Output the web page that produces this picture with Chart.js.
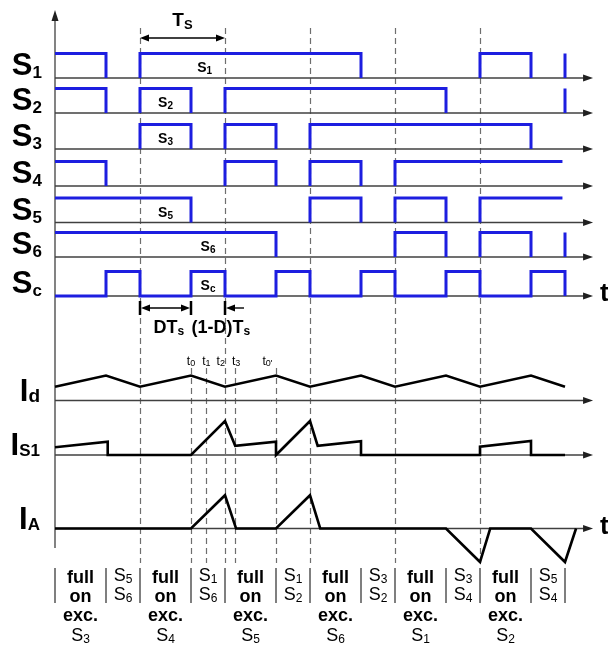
<!DOCTYPE html>
<html>
<head>
<meta charset="utf-8">
<script src="https://cdn.jsdelivr.net/npm/chart.js@4.4.1/dist/chart.umd.min.js"></script>
<style>
  body { margin: 0; background: #fff; }
  canvas { display: block; }
</style>
</head>
<body>
<canvas id="timing" width="608" height="651"></canvas>
<script>
// time is in units of Ts, switches are 0/1, currents in arbitrary units
var sw1Pulses = [[0, 0.6], [1, 3.6], [5, 5.6], [6, 6]];
var sw2Pulses = [[0, 0.6], [1, 1.6], [2, 4.6], [6, 6]];
var sw3Pulses = [[1, 1.6], [2, 2.6], [3, 5.6]];
var sw4Pulses = [[0, 0.6], [2, 2.6], [3, 3.6], [4, null]]; // null = still on at the end
var sw5Pulses = [[0, 1.6], [3, 3.6], [4, 4.6], [5, null]];
var sw6Pulses = [[0, 2.6], [4, 4.6], [5, 5.6], [6, 6]];
var scPulses = [[0.6, 1], [1.6, 2], [2.6, 3], [3.6, 4], [4.6, 5], [5.6, 6]];
var openEnd = 5.97;

var idWave = [[0, 0.55], [0.6, 1], [1, 0.55], [1.6, 1], [2, 0.55], [2.6, 1], [3, 0.55],
  [3.6, 1], [4, 0.55], [4.6, 1], [5, 0.55], [5.6, 1], [6, 0.55]];
var is1Wave = [[0, 0.31], [0.62, 0.53], [0.62, 0], [1.6, 0], [2, 1.36], [2.12, 0.37],
  [2.6, 0.53], [2.6, 0], [3, 1.36], [3.09, 0.37], [3.6, 0.55], [3.6, 0], [5, 0],
  [5, 0.33], [5.6, 0.56], [5.6, 0], [6, 0]];
var iaWave = [[0, 0], [1.6, 0], [2, 1.33], [2.13, 0], [2.6, 0], [3, 1.33], [3.12, 0],
  [4.6, 0], [5, -1.34], [5.12, 0], [5.6, 0], [6, -1.34], [6.13, 0]];

var switchNames = ['1', '2', '3', '4', '5', '6', 'c'];
var currentNames = ['d', 'S1', 'A'];

var periodMarks = [1, 2, 3, 4, 5];
var instantMarks = [1.6, 1.78, 2.12, 2.6];
var instantNames = [['0', 1.6], ['1', 1.78], ['2', 1.95], ['3', 2.13], ["0'", 2.5]];

var phaseBounds = [0, 0.6, 1, 1.6, 2, 2.6, 3, 3.6, 4, 4.6, 5, 5.6, 6];
var phaseLabels = [
  ['full', 'on', 'exc.', '3'], ['5', '6'],
  ['full', 'on', 'exc.', '4'], ['1', '6'],
  ['full', 'on', 'exc.', '5'], ['1', '2'],
  ['full', 'on', 'exc.', '6'], ['3', '2'],
  ['full', 'on', 'exc.', '1'], ['3', '4'],
  ['full', 'on', 'exc.', '2'], ['5', '4']
];

// layout
var xOriginPx = 55;
var pxPerTs = 85;
var rowBase = [78, 113, 149, 186, 222.5, 257, 296];
var pulseHeight = 24.5;
var analogBase = [400.5, 455, 528.5];
var analogUnit = 25;
var axisEnd = 6.33;
var blue = '#1d1ee0';
var FONT = '"Liberation Sans", Arial, sans-serif';

function pulsePoints(pulses, base) {
  var pts = [];
  for (var i = 0; i < pulses.length; i++) {
    var start = pulses[i][0];
    var end = pulses[i][1] === null ? openEnd : pulses[i][1];
    if (start > 0) pts.push({x: start, y: base});
    pts.push({x: start, y: base - pulseHeight});
    pts.push({x: end, y: base - pulseHeight});
    if (pulses[i][1] !== null) pts.push({x: end, y: base});
    pts.push({x: end, y: null});
  }
  return pts;
}

function clockPoints(pulses, base) {
  var pts = [{x: 0, y: base}];
  for (var i = 0; i < pulses.length; i++) {
    pts.push({x: pulses[i][0], y: base});
    pts.push({x: pulses[i][0], y: base - pulseHeight});
    pts.push({x: pulses[i][1], y: base - pulseHeight});
    pts.push({x: pulses[i][1], y: base});
  }
  return pts;
}

function wavePoints(wave, base) {
  return wave.map(function(p) { return {x: p[0], y: base - p[1] * analogUnit}; });
}

var allPulses = [sw1Pulses, sw2Pulses, sw3Pulses, sw4Pulses, sw5Pulses, sw6Pulses];
var datasets = [];
for (var i = 0; i < allPulses.length; i++) {
  datasets.push({data: pulsePoints(allPulses[i], rowBase[i]), borderColor: blue, borderWidth: 3});
}
datasets.push({data: clockPoints(scPulses, rowBase[6]), borderColor: blue, borderWidth: 3});
var waves = [idWave, is1Wave, iaWave];
for (var j = 0; j < waves.length; j++) {
  datasets.push({data: wavePoints(waves[j], analogBase[j]), borderColor: '#000', borderWidth: 2.6});
}
datasets.forEach(function(d) {
  d.showLine = true;
  d.pointRadius = 0;
  d.spanGaps = false;
  d.clip = false;
  d.borderJoinStyle = 'miter';
});

function drawParts(ctx, parts, x, y, align) {
  var widths = parts.map(function(p) { ctx.font = p[1]; return ctx.measureText(p[0]).width; });
  var total = widths.reduce(function(a, b) { return a + b; }, 0);
  var cx = align === 'center' ? x - total / 2 : (align === 'right' ? x - total : x);
  ctx.textAlign = 'left';
  ctx.textBaseline = 'alphabetic';
  for (var i = 0; i < parts.length; i++) {
    ctx.font = parts[i][1];
    ctx.fillText(parts[i][0], cx, y + (parts[i][2] || 0));
    cx += widths[i];
  }
}

function arrowHead(ctx, x, y, dir, len, half) {
  ctx.beginPath();
  if (dir === 'right') { ctx.moveTo(x, y); ctx.lineTo(x - len, y - half); ctx.lineTo(x - len, y + half); }
  if (dir === 'left') { ctx.moveTo(x, y); ctx.lineTo(x + len, y - half); ctx.lineTo(x + len, y + half); }
  if (dir === 'up') { ctx.moveTo(x, y); ctx.lineTo(x - half, y + len); ctx.lineTo(x + half, y + len); }
  ctx.closePath();
  ctx.fill();
}

function line(ctx, x1, y1, x2, y2) {
  ctx.beginPath();
  ctx.moveTo(x1, y1);
  ctx.lineTo(x2, y2);
  ctx.stroke();
}

var diagramPlugin = {
  id: 'diagram',
  beforeDatasetsDraw: function(chart) {
    var ctx = chart.ctx;
    var xs = chart.scales.x, ys = chart.scales.y;
    var x0 = xs.getPixelForValue(0), xEnd = xs.getPixelForValue(axisEnd);
    ctx.save();
    // dashed period lines
    ctx.strokeStyle = '#6e6e6e';
    ctx.lineWidth = 1.2;
    ctx.setLineDash([6, 4]);
    periodMarks.forEach(function(t) {
      var x = Math.round(xs.getPixelForValue(t)) + 0.5;
      line(ctx, x, ys.getPixelForValue(28), x, ys.getPixelForValue(563));
    });
    instantMarks.forEach(function(t) {
      var x = Math.round(xs.getPixelForValue(t)) + 0.5;
      line(ctx, x, ys.getPixelForValue(368), x, ys.getPixelForValue(563));
    });
    ctx.setLineDash([]);
    // time axes
    ctx.strokeStyle = '#404040';
    ctx.fillStyle = '#202020';
    ctx.lineWidth = 1.3;
    rowBase.concat(analogBase).forEach(function(b) {
      var y = ys.getPixelForValue(b);
      line(ctx, x0, y, xEnd - 6, y);
      arrowHead(ctx, xEnd, y, 'right', 10, 3.5);
    });
    line(ctx, x0, ys.getPixelForValue(548), x0, ys.getPixelForValue(20));
    arrowHead(ctx, x0, ys.getPixelForValue(10), 'up', 11, 3.5);
    // phase separators
    ctx.strokeStyle = '#555';
    ctx.lineWidth = 1.5;
    phaseBounds.forEach(function(t) {
      var x = xs.getPixelForValue(t);
      line(ctx, x, ys.getPixelForValue(568), x, ys.getPixelForValue(603));
    });
    ctx.restore();
  },
  afterDatasetsDraw: function(chart) {
    var ctx = chart.ctx;
    var xs = chart.scales.x, ys = chart.scales.y;
    ctx.save();
    ctx.fillStyle = '#000';
    ctx.strokeStyle = '#000';
    // row labels
    var big = 'bold 31px ' + FONT, sub = 'bold 17px ' + FONT;
    switchNames.forEach(function(n, i) {
      var y = ys.getPixelForValue(rowBase[i]);
      drawParts(ctx, [['S', big, -3], [n, sub, 0]], 42, y, 'right');
    });
    currentNames.forEach(function(n, i) {
      var y = ys.getPixelForValue(analogBase[i]);
      drawParts(ctx, [['I', big, 0], [n, n === 'd' ? 'bold 19px ' + FONT : sub, 1]], 40, y, 'right');
    });
    // signal names inside the pulses
    var s14 = 'bold 14px ' + FONT, s10 = 'bold 10px ' + FONT;
    var inner = [[1.76, 0, '1'], [1.3, 1, '2'], [1.3, 2, '3'], [1.3, 4, '5'], [1.8, 5, '6'], [1.8, 6, 'c']];
    inner.forEach(function(p) {
      drawParts(ctx, [['S', s14, 0], [p[2], s10, 2]], xs.getPixelForValue(p[0]), ys.getPixelForValue(rowBase[p[1]] - 6), 'center');
    });
    // Ts marker
    var ya = ys.getPixelForValue(38);
    var xa = xs.getPixelForValue(1), xb = xs.getPixelForValue(2);
    ctx.lineWidth = 1.4;
    line(ctx, xa + 4, ya, xb - 4, ya);
    arrowHead(ctx, xa, ya, 'left', 9, 3.5);
    arrowHead(ctx, xb, ya, 'right', 9, 3.5);
    drawParts(ctx, [['T', 'bold 19px ' + FONT, 0], ['S', 'bold 13px ' + FONT, 3]], xs.getPixelForValue(1.5), ys.getPixelForValue(26), 'center');
    // DTs / (1-D)Ts markers
    var yd = ys.getPixelForValue(308);
    var xd = xs.getPixelForValue(1.6);
    ctx.lineWidth = 2.5;
    line(ctx, xa, yd - 7, xa, yd + 7);
    line(ctx, xd, yd - 7, xd, yd + 7);
    line(ctx, xb, yd - 7, xb, yd + 7);
    ctx.lineWidth = 1.4;
    line(ctx, xa + 4, yd, xd - 4, yd);
    arrowHead(ctx, xa + 1, yd, 'left', 9, 3.5);
    arrowHead(ctx, xd - 1, yd, 'right', 9, 3.5);
    line(ctx, xb + 4, yd, xb + 19, yd);
    arrowHead(ctx, xb + 1, yd, 'left', 9, 3.5);
    var f17 = 'bold 18px ' + FONT, f12 = 'bold 12px ' + FONT;
    drawParts(ctx, [['DT', f17, 0], ['s', f12, 2]], xs.getPixelForValue(1.34), ys.getPixelForValue(333), 'center');
    drawParts(ctx, [['(1-D)T', f17, 0], ['s', f12, 2]], xs.getPixelForValue(1.95), ys.getPixelForValue(333), 'center');
    // instant labels
    var yt = ys.getPixelForValue(365);
    instantNames.forEach(function(p) {
      drawParts(ctx, [['t', '12px ' + FONT, 0], [p[0], '9px ' + FONT, 1]], xs.getPixelForValue(p[1]), yt, 'center');
    });
    // t at the arrow ends
    ctx.font = 'bold 26px ' + FONT;
    ctx.fillText('t', 600, ys.getPixelForValue(rowBase[6]) + 5);
    ctx.fillText('t', 600, ys.getPixelForValue(analogBase[2]) + 5);
    // phase labels
    var fb = 'bold 18px ' + FONT, fr = '18px ' + FONT, fs = '12px ' + FONT;
    phaseLabels.forEach(function(lab, i) {
      var xc = xs.getPixelForValue((phaseBounds[i] + phaseBounds[i + 1]) / 2);
      if (lab.length === 4) {
        drawParts(ctx, [[lab[0], fb, 0]], xc, ys.getPixelForValue(583), 'center');
        drawParts(ctx, [[lab[1], fb, 0]], xc, ys.getPixelForValue(602), 'center');
        drawParts(ctx, [[lab[2], fb, 0]], xc, ys.getPixelForValue(621), 'center');
        drawParts(ctx, [['S', fr, 0], [lab[3], fs, 2]], xc, ys.getPixelForValue(641), 'center');
      } else {
        drawParts(ctx, [['S', fr, 0], [lab[0], fs, 2]], xc, ys.getPixelForValue(581), 'center');
        drawParts(ctx, [['S', fr, 0], [lab[1], fs, 2]], xc, ys.getPixelForValue(600), 'center');
      }
    });
    ctx.restore();
  }
};

new Chart(document.getElementById('timing').getContext('2d'), {
  type: 'scatter',
  data: {datasets: datasets},
  options: {
    responsive: false,
    animation: false,
    events: [],
    layout: {padding: 0},
    scales: {
      x: {type: 'linear', display: false, min: -xOriginPx / pxPerTs, max: (608 - xOriginPx) / pxPerTs},
      y: {type: 'linear', display: false, min: 0, max: 651, reverse: true}
    },
    plugins: {legend: {display: false}, tooltip: {enabled: false}}
  },
  plugins: [diagramPlugin]
});
</script>
</body>
</html>
